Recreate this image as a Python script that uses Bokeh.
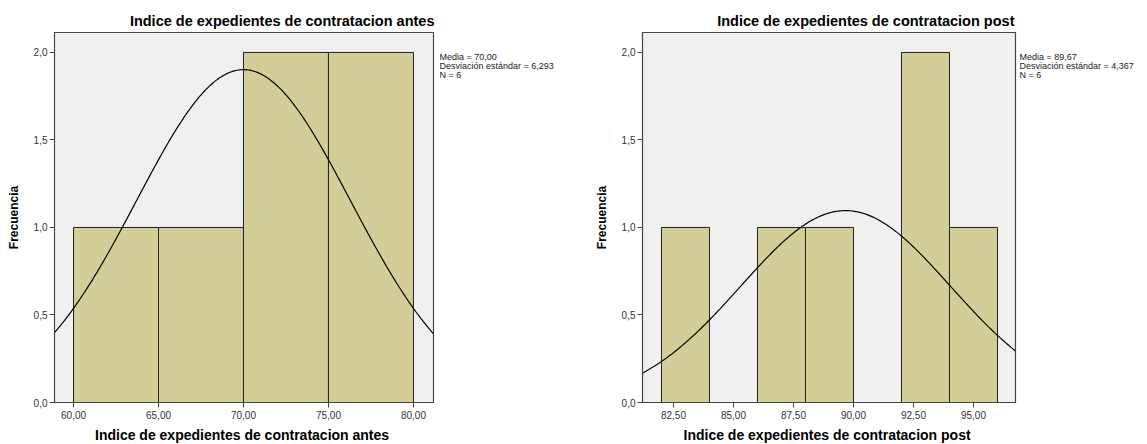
import numpy as np
from bokeh.plotting import figure
from bokeh.layouts import row
from bokeh.models import SingleIntervalTicker, CustomJSTickFormatter, Range1d
from bokeh.core.properties import value
from bokeh.embed import file_html
from bokeh.resources import INLINE

# ---- data ----
antes_edges = [60, 65, 70, 75, 80]
antes_counts = [1, 1, 2, 2]
antes_mean, antes_sd, antes_n = 70.00, 6.293, 6
antes_stats = ["Media = 70,00", "Desviación estándar = 6,293", "N = 6"]

post_edges = [82, 84, 86, 88, 90, 92, 94, 96]
post_counts = [1, 0, 1, 1, 0, 2, 1]
post_mean, post_sd, post_n = 89.67, 4.367, 6
post_stats = ["Media = 89,67", "Desviación estándar = 4,367", "N = 6"]

y_ticks_interval = 0.5

FONT = "Liberation Sans"
BAR = "#D3CE97"
BG = "#F0F0F0"
EDGE = "#444444"
H = 444
TOP, BOTTOM = 32, 42
FH = H - TOP - BOTTOM


def make(edges, counts, mean, sd, n, title, xr, xint, width, bl, fw, br, title_off):
    p = figure(width=width, height=H, frame_width=fw, frame_height=FH,
               min_border_left=bl, min_border_right=br, min_border_top=TOP,
               min_border_bottom=BOTTOM, output_backend="svg", toolbar_location=None,
               x_range=Range1d(*xr), y_range=Range1d(0, 2.114),
               background_fill_color=BG, border_fill_color="white",
               outline_line_color=EDGE, outline_line_width=1.2)
    p.title.text = title
    p.title.align = "right"
    p.title.offset = title_off
    p.title.text_font = FONT
    p.title.text_font_size = "14.5px"
    p.title.text_font_style = "bold"
    p.title.standoff = 8
    p.title.text_color = "black"

    left = [edges[i] for i in range(len(counts)) if counts[i] > 0]
    right = [edges[i + 1] for i in range(len(counts)) if counts[i] > 0]
    top = [c for c in counts if c > 0]
    p.quad(left=left, right=right, top=top, bottom=0, fill_color=BAR,
           line_color="#222222", line_width=1)

    bw = edges[1] - edges[0]
    xs = np.linspace(xr[0], xr[1], 300)
    ys = n * bw / (sd * np.sqrt(2 * np.pi)) * np.exp(-0.5 * ((xs - mean) / sd) ** 2)
    p.line(xs, ys, line_color="black", line_width=1.2)

    p.grid.visible = False
    for ax in (p.xaxis[0], p.yaxis[0]):
        ax.axis_line_color = EDGE
        ax.major_tick_line_color = EDGE
        ax.major_tick_out = 5
        ax.major_tick_in = 0
        ax.minor_tick_line_color = None
        ax.major_label_text_font = FONT
        ax.major_label_text_font_size = "10px"
        ax.major_label_text_color = "#333333"
        ax.axis_label_text_font = FONT
        ax.axis_label_text_font_style = "bold"
        ax.axis_label_text_color = "black"
    p.xaxis.ticker = SingleIntervalTicker(interval=xint)
    p.yaxis.ticker = SingleIntervalTicker(interval=y_ticks_interval)
    p.xaxis.formatter = CustomJSTickFormatter(code="return tick.toFixed(2).replace('.', ',');")
    p.yaxis.formatter = CustomJSTickFormatter(code="return tick.toFixed(1).replace('.', ',');")
    p.xaxis.axis_label = title
    p.xaxis.axis_label_text_font_size = "14px"
    p.xaxis.axis_label_standoff = 5
    p.xaxis.major_label_standoff = 3
    p.yaxis.axis_label = "Frecuencia"
    p.yaxis.axis_label_text_font_size = "12px"
    p.yaxis.axis_label_standoff = 10
    p.yaxis.major_label_standoff = 2
    return p


def stats_panel(lines, width):
    # frame spans the same rows as the histogram frames; y range is in page pixels
    t = figure(title=None, width=width, height=H, frame_width=width, frame_height=FH,
               min_border_left=0, min_border_right=0, min_border_top=TOP,
               min_border_bottom=BOTTOM,
               x_range=Range1d(0, width), y_range=Range1d(TOP + FH, TOP),
               output_backend="svg", toolbar_location=None,
               x_axis_type=None, y_axis_type=None, outline_line_color=None,
               background_fill_color="white", border_fill_color="white")
    t.grid.visible = False
    t.text(x=[0] * len(lines), y=[56 + 9 * i for i in range(len(lines))], text=lines,
           text_font=value(FONT), text_font_size="9px", text_baseline="middle",
           text_align="left", text_color="#222222")
    return t


p1 = make(antes_edges, antes_counts, antes_mean, antes_sd, antes_n,
          "Indice de expedientes de contratacion  antes", (58.88, 81.18), 5,
          439, 54, 379, 6, -5)
t1 = stats_panel(antes_stats, 141)
p2 = make(post_edges, post_counts, post_mean, post_sd, post_n,
          "Indice de expedientes de contratacion  post", (81.21, 96.75), 2.5,
          439, 62, 373, 4, -3)
t2 = stats_panel(post_stats, 128)

layout = row(p1, t1, p2, t2)
open("out.html", "w").write(file_html(layout, INLINE))
